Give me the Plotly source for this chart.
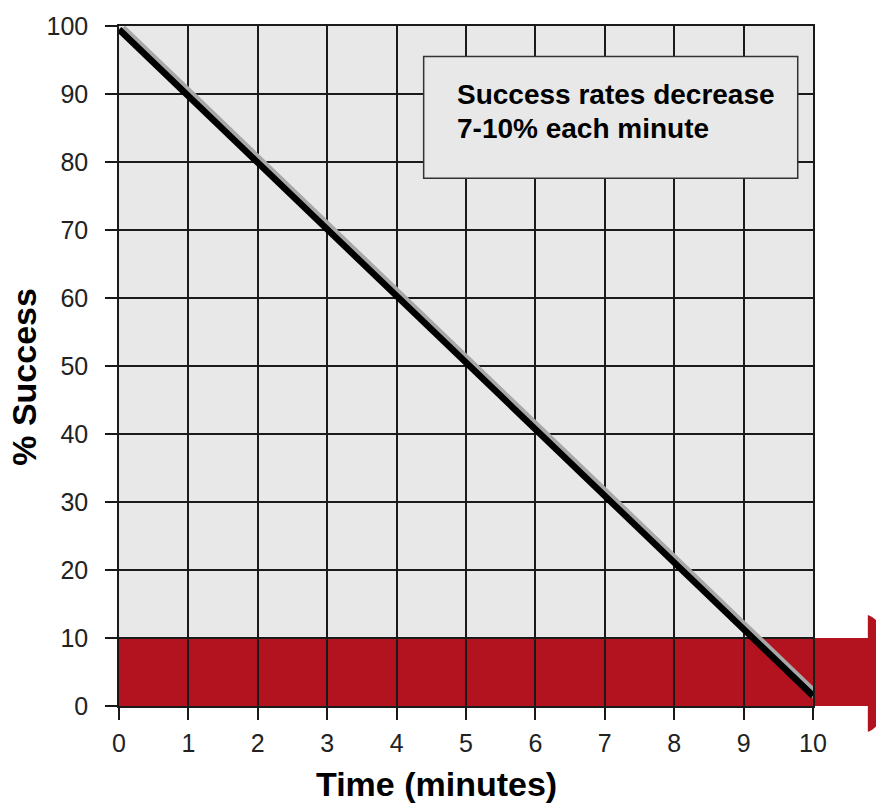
import plotly.graph_objects as go

# ---- data ----
time_min = [0, 10]
success_pct = [99.5, 1.5]
x_ticks = [0, 1, 2, 3, 4, 5, 6, 7, 8, 9, 10]
y_ticks = [0, 10, 20, 30, 40, 50, 60, 70, 80, 90, 100]
danger_band = [0, 10]
note_lines = ["Success rates decrease", "7-10% each minute"]
x_title = "Time (minutes)"
y_title = "% Success"

X_RANGE = [0, 10]
Y_RANGE = [0, 100]
FONT = "Liberation Sans, Arial, sans-serif"
RED = "#b2131e"
GRID = "#1a1a1a"

fig = go.Figure()

# shadow / outline of the line
fig.add_trace(go.Scatter(
    x=[t + 0.04 for t in time_min], y=[s + 0.1 for s in success_pct],
    mode="lines", line=dict(color="#a8a8a8", width=9),
    hoverinfo="skip", showlegend=False, cliponaxis=False))
fig.add_trace(go.Scatter(
    x=time_min, y=success_pct, mode="lines",
    line=dict(color="#000000", width=6.5),
    showlegend=False, cliponaxis=False))

# red danger band (paper coords so it can extend past the plot with an arrow head)
y_lo = (danger_band[0] - Y_RANGE[0]) / (Y_RANGE[1] - Y_RANGE[0])
y_hi = (danger_band[1] - Y_RANGE[0]) / (Y_RANGE[1] - Y_RANGE[0])
xe = 1.079
head_top = y_hi + 0.034
head_bot = y_lo - 0.038
mid = (y_lo + y_hi) / 2
tip = 1.14
path = (f"M 0,{y_lo} L 0,{y_hi} L {xe},{y_hi} L {xe},{head_top} "
        f"Q {xe + 0.02},{head_top - 0.005} {tip},{mid} "
        f"Q {xe + 0.02},{head_bot + 0.005} {xe},{head_bot} "
        f"L {xe},{y_lo} Z")
fig.add_shape(type="path", path=path, xref="paper", yref="paper",
              fillcolor=RED, line=dict(width=0), layer="below")

# note box
fig.add_shape(type="rect", xref="x", yref="y", x0=4.39, x1=9.78, y0=77.6, y1=95.5,
              fillcolor="#e8e8e8", line=dict(color="#333333", width=1.5), layer="above")
for line_text, yv in zip(note_lines, [90.0, 84.9]):
    fig.add_annotation(x=4.84, y=yv, xref="x", yref="y", xanchor="left", yanchor="middle",
                       text=f"<b>{line_text}</b>", align="left", showarrow=False,
                       font=dict(family=FONT, size=28, color="#000000"))

# axis titles
fig.add_annotation(x=0.458, y=-0.114, xref="paper", yref="paper", text=f"<b>{x_title}</b>",
                   xanchor="center", yanchor="middle",
                   showarrow=False, font=dict(family=FONT, size=34, color="#000000"))
fig.add_annotation(x=-0.137, y=0.484, xref="paper", yref="paper", text=f"<b>{y_title}</b>",
                   xanchor="center", yanchor="middle",
                   textangle=-90, showarrow=False,
                   font=dict(family=FONT, size=34, color="#000000"))

axis_common = dict(showgrid=True, gridcolor=GRID, gridwidth=1.5,
                   ticks="outside", ticklen=12, tickcolor=GRID, tickwidth=1.5,
                   showline=True, linecolor=GRID, linewidth=1.5, mirror=True,
                   zeroline=False, ticklabeloverflow="allow",
                   tickfont=dict(family=FONT, size=25, color="#222222"))

fig.update_layout(
    width=876, height=804, autosize=False,
    margin=dict(l=119, r=63, t=24, b=98),
    paper_bgcolor="#ffffff", plot_bgcolor="#e8e8e8",
    xaxis=dict(range=X_RANGE, tickvals=x_ticks, ticklabelstandoff=2, **axis_common),
    yaxis=dict(range=Y_RANGE, tickvals=y_ticks, ticklabelstandoff=12, **axis_common),
    showlegend=False,
)

fig.write_html("out.html", config={"displayModeBar": False},
               post_script="document.body.style.margin='0';document.body.style.overflow='hidden';")
